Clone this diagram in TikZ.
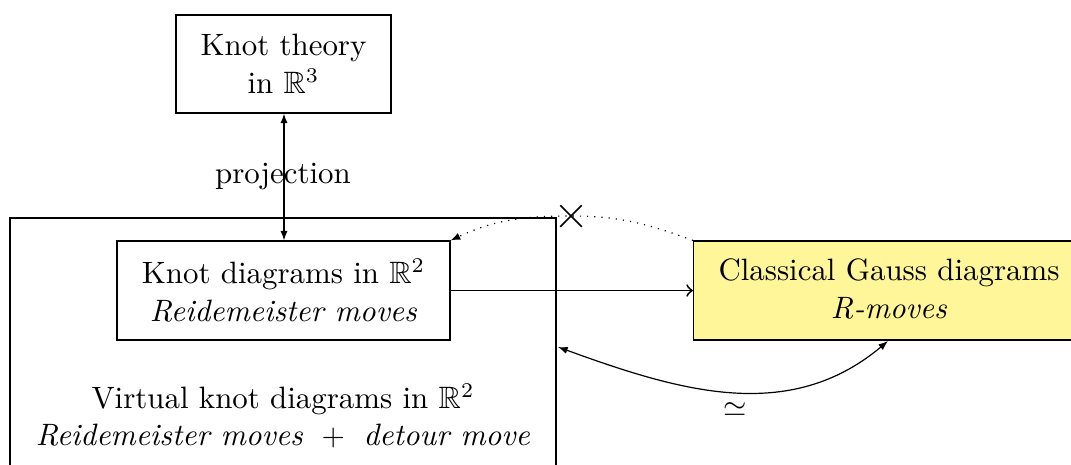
\documentclass[tikz,border=0pt]{standalone}
\usepackage{amssymb}
\usetikzlibrary{arrows.meta,shapes.misc}
\definecolor{gaussyellow}{RGB}{255,246,153}
\begin{document}
\begin{tikzpicture}[x=0.33333pt,y=-0.33333pt,
  every node/.style={font=\fontsize{10.3pt}{12.5pt}\selectfont},
  box/.style={draw,line width=0.4pt,align=center,inner sep=0pt},
  tip/.style={-{Latex[length=3.2pt,width=2.4pt]}},
  dtip/.style={{Latex[length=3.2pt,width=2.4pt]}-{Latex[length=3.2pt,width=2.4pt]}}]
\useasboundingbox (0,0) rectangle (1071,464);
\begin{scope}
\clip (0,0) rectangle (1071,464);
\draw[line width=0.4pt] (556,480) -- (556,218) -- (10,218) -- (10,480);
\node[box,fill=gaussyellow,minimum width=392*0.33333pt,minimum height=99*0.33333pt,anchor=west] (gd) at (693,290.5) {};
\end{scope}
\node[align=center] (gdt) at (889,289) {Classical Gauss diagrams\\ \textit{R-moves}};
\coordinate (gdb) at (888,341);
\coordinate (bigr) at (558,347);
\node[box,minimum width=215*0.33333pt,minimum height=98*0.33333pt] (kt) at (283.5,64) {Knot theory\\in $\mathbb{R}^3$};
\node[box,minimum width=333*0.33333pt,minimum height=99*0.33333pt] (kd) at (283.5,290.5) {Knot diagrams in $\mathbb{R}^2$\\ \textit{Reidemeister moves}};
\node[align=center] (vk) at (283,416) {Virtual knot diagrams in $\mathbb{R}^2$\\ \textit{Reidemeister moves} $\;+\;$ \textit{detour move}};
\node (proj) at (283,177) {projection};
\draw[dtip] (kt.south -| 284,0) -- (kd.north -| 284,0);
\draw[-to,semithick] (kd.east) -- (gd.west);
\node[cross out,draw,line width=0.5pt,minimum size=20*0.33333pt,inner sep=0pt] (cx) at (571,216) {};
\draw[dotted,tip] (gd.north west) to[out=160,in=0] (cx.center) to[out=180,in=25] (kd.north east);
\draw[dtip] (bigr) to[out=-20,in=-140] (gdb);
\node (sim) at (735,410) {$\simeq$};
\end{tikzpicture}
\end{document}
